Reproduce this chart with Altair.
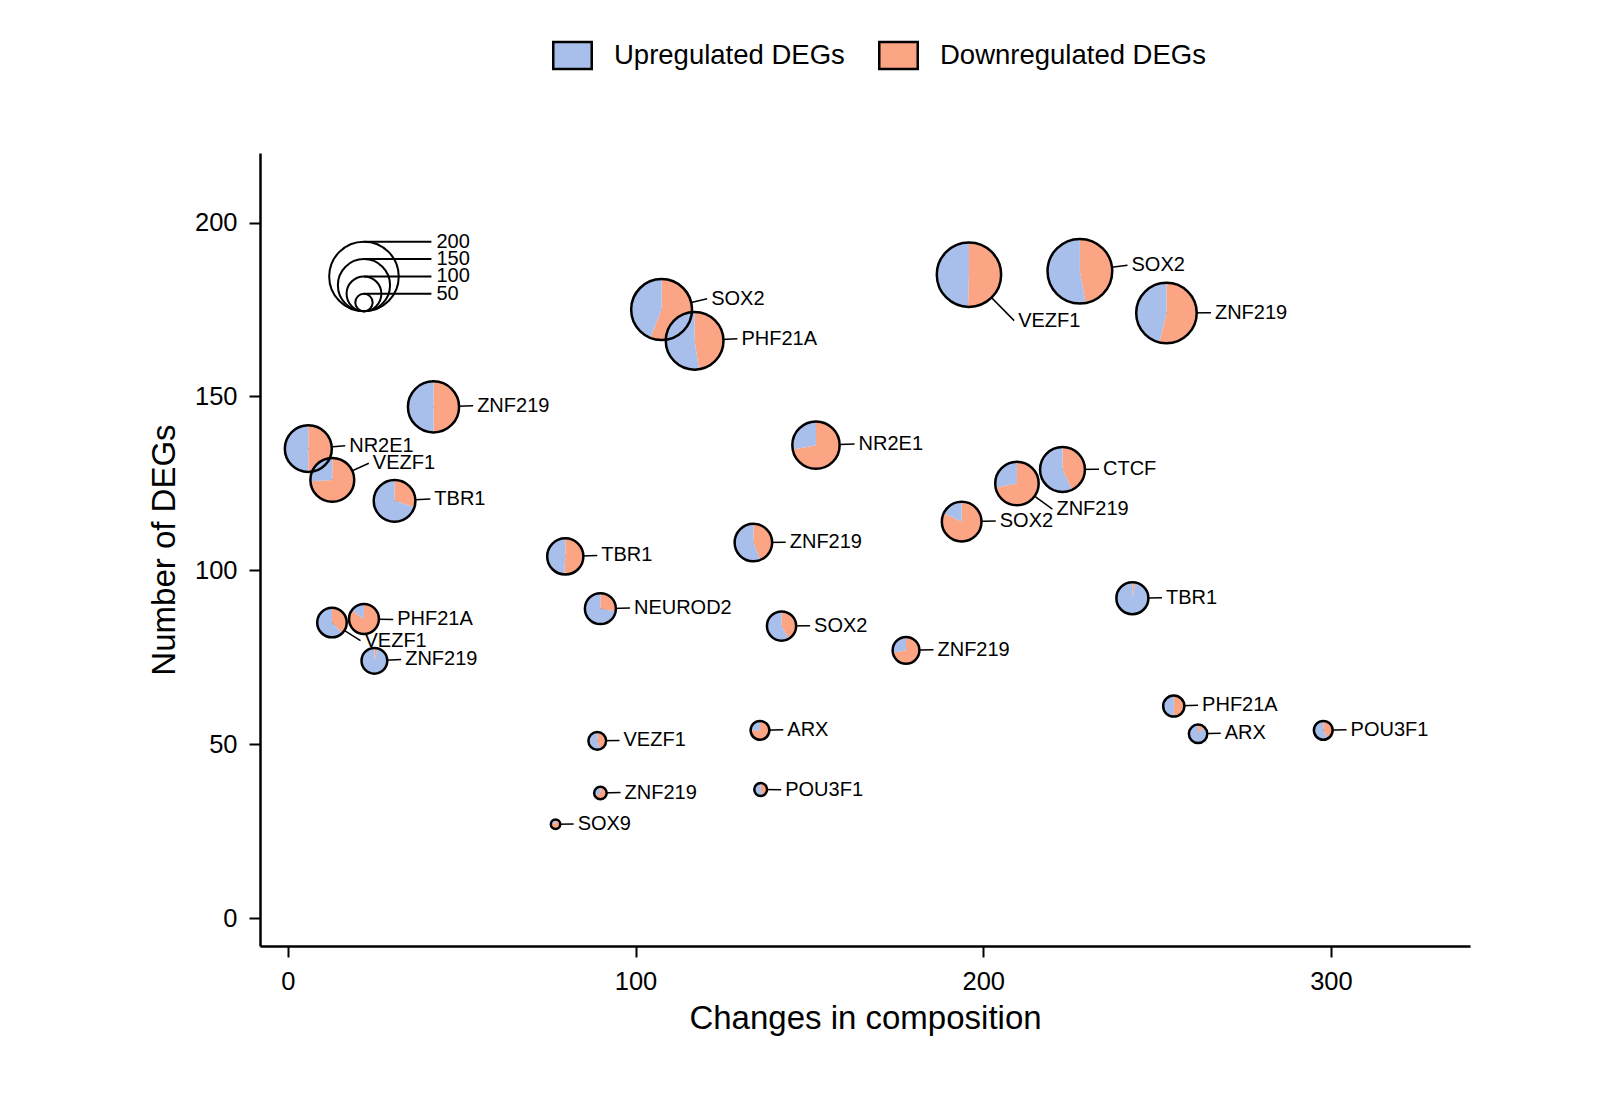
import math
import altair as alt
import pandas as pd

# ---------------- data ----------------
names = ["NR2E1", "VEZF1", "ZNF219", "TBR1", "TBR1", "NEUROD2", "ZNF219", "SOX2",
         "VEZF1", "ZNF219", "SOX9", "ARX", "POU3F1", "SOX2", "PHF21A", "NR2E1",
         "ZNF219", "VEZF1", "SOX2", "ZNF219", "SOX2", "ZNF219", "CTCF", "TBR1",
         "PHF21A", "ARX", "POU3F1", "VEZF1", "PHF21A", "ZNF219"]
composition = [5.9, 12.8, 41.9, 30.7, 79.8, 89.9, 133.9, 142.0,
               89.0, 89.9, 77.0, 135.8, 136.0, 107.5, 117.0, 151.9,
               177.8, 195.9, 227.8, 252.7, 193.8, 209.7, 222.8, 242.9,
               254.8, 261.8, 297.8, 12.7, 21.9, 24.9]
n_degs = [135, 126, 147, 120, 104, 89, 108, 84,
          51, 36, 27, 54, 37, 175, 166, 136,
          77, 185, 186, 174, 114, 125, 129, 92,
          61, 53, 54, 85, 86, 74]
down_share = [0.50, 0.74, 0.50, 0.30, 0.51, 0.28, 0.44, 0.42,
              0.45, 0.68, 0.80, 0.75, 0.45, 0.56, 0.476, 0.72,
              0.72, 0.505, 0.472, 0.538, 0.82, 0.72, 0.43, 0.03,
              0.50, 0.12, 0.42, 0.38, 0.85, 0.04]
label_x = [16.5, 23.3, 53.3, 41.0, 89.0, 98.4, 143.2, 150.2,
           95.4, 95.7, 82.2, 142.5, 141.9, 120.6, 129.3, 163.0,
           185.7, 208.9, 241.5, 265.5, 203.6, 219.9, 233.3, 251.4,
           261.8, 268.3, 304.5, 20.9, 30.3, 32.6]
label_y = [135.8, 130.8, 147.3, 120.5, 104.3, 89.2, 108.1, 84.1,
           51.1, 36.1, 27.1, 54.2, 36.9, 178.1, 166.6, 136.3,
           77.2, 171.8, 187.7, 174.1, 114.2, 117.6, 129.1, 92.1,
           61.2, 53.2, 54.2, 79.8, 85.9, 74.4]
size_legend_values = [200, 150, 100, 50]
series = ["Upregulated DEGs", "Downregulated DEGs"]
x_ticks = [0, 100, 200, 300]
y_ticks = [0, 50, 100, 150, 200]

# ---------------- layout / style ----------------
FONT = "Liberation Sans"
BLUE = "#A8BFEB"
ORANGE = "#FBA584"
X_DOMAIN = [-8, 340]
Y_DOMAIN = [-8, 220]
W, H = 1210, 793
PX = H / (Y_DOMAIN[1] - Y_DOMAIN[0])      # pixels per data unit
R_PER_DEG = 1 / 20                         # pie radius in data units per DEG
TAU = 2 * math.pi

pts = pd.DataFrame(dict(name=names, x=composition, y=n_degs, down=down_share,
                        lx=label_x, ly=label_y))
pts["r"] = pts["y"] * R_PER_DEG * PX
pts["a0"] = 0.0
pts["a1"] = TAU

rows = []
for _, p in pts.iterrows():
    d = p["down"] * TAU
    rows.append(dict(x=p["x"], y=p["y"], r=p["r"], t0=0.0, t1=d, kind=series[1]))
    rows.append(dict(x=p["x"], y=p["y"], r=p["r"], t0=d, t1=TAU, kind=series[0]))
slices = pd.DataFrame(rows)

# size legend (nested circles)
SL_X, SL_BOTTOM, SL_LINE_END = 21.9, 174.5, 41.3
sl = pd.DataFrame(dict(v=size_legend_values))
sl["x"] = SL_X
sl["y"] = SL_BOTTOM + sl["v"] * R_PER_DEG
sl["top"] = SL_BOTTOM + 2 * sl["v"] * R_PER_DEG
sl["x2"] = SL_LINE_END
sl["r"] = sl["v"] * R_PER_DEG * PX
sl["a0"] = 0.0
sl["a1"] = TAU
sl["label"] = sl["v"].astype(str)

xs = alt.Scale(domain=X_DOMAIN, nice=False, zero=False)
ys = alt.Scale(domain=Y_DOMAIN, nice=False, zero=False)
X = lambda f: alt.X(f, scale=xs, title="Changes in composition",
                    axis=alt.Axis(values=x_ticks))
Y = lambda f: alt.Y(f, scale=ys, title="Number of DEGs",
                    axis=alt.Axis(values=y_ticks))
R = alt.Radius("r:Q", scale=None, stack=None)

leaders = alt.Chart(pts).mark_rule(color="black", strokeWidth=1.5).encode(
    x=X("x:Q"), y=Y("y:Q"), x2="lx:Q", y2="ly:Q")

pies = alt.Chart(slices).mark_arc().encode(
    x=X("x:Q"), y=Y("y:Q"),
    theta=alt.Theta("t0:Q", scale=None, stack=None),
    theta2="t1:Q",
    radius=R,
    color=alt.Color("kind:N", scale=alt.Scale(domain=series, range=[BLUE, ORANGE]),
                    legend=alt.Legend(title=None, orient="none", legendX=292, legendY=-118,
                                      direction="horizontal",
                                      symbolType="M-1,-0.7H1V0.7H-1Z", symbolSize=1480,
                                      symbolStrokeColor="black", symbolStrokeWidth=2.5,
                                      symbolOpacity=1, labelFont=FONT, labelFontSize=27.5,
                                      labelColor="black", labelOffset=21, columnPadding=29,
                                      labelLimit=0, padding=0)),
)

outlines = alt.Chart(pts).mark_arc(filled=False, stroke="black", strokeWidth=2.5).encode(
    x=X("x:Q"), y=Y("y:Q"),
    theta=alt.Theta("a0:Q", scale=None, stack=None), theta2="a1:Q",
    radius=R,
)

labels = alt.Chart(pts).mark_text(align="left", baseline="middle", dx=4, font=FONT,
                                  fontSize=20, color="black").encode(
    x=X("lx:Q"), y=Y("ly:Q"), text="name:N")

sl_circles = alt.Chart(sl).mark_arc(filled=False, stroke="black", strokeWidth=2).encode(
    x=X("x:Q"), y=Y("y:Q"),
    theta=alt.Theta("a0:Q", scale=None, stack=None), theta2="a1:Q",
    radius=R,
)
sl_lines = alt.Chart(sl).mark_rule(color="black", strokeWidth=2).encode(
    x=X("x:Q"), x2="x2:Q", y=Y("top:Q"))
sl_text = alt.Chart(sl).mark_text(align="left", baseline="middle", dx=5, font=FONT,
                                  fontSize=20, color="black").encode(
    x=X("x2:Q"), y=Y("top:Q"), text="label:N")

chart = alt.layer(leaders, pies, outlines, labels, sl_circles, sl_lines, sl_text).properties(
    width=W, height=H,
    autosize=alt.AutoSizeParams(type="none"),
    padding={"left": 252, "top": 145, "right": 122, "bottom": 146},
).configure_view(stroke="transparent").configure_axis(
    domainColor="black", domainWidth=2.5, tickColor="black", tickWidth=2, tickSize=11,
    labelFont=FONT, labelFontSize=25.5, labelColor="black", labelPadding=12,
    titleFont=FONT, titleFontSize=33, titleFontWeight="normal", titleColor="black",
    grid=False,
).configure_axisY(titlePadding=13).configure_axisX(titlePadding=8)

chart.save("out.html", embed_options={"renderer": "svg", "actions": False})
